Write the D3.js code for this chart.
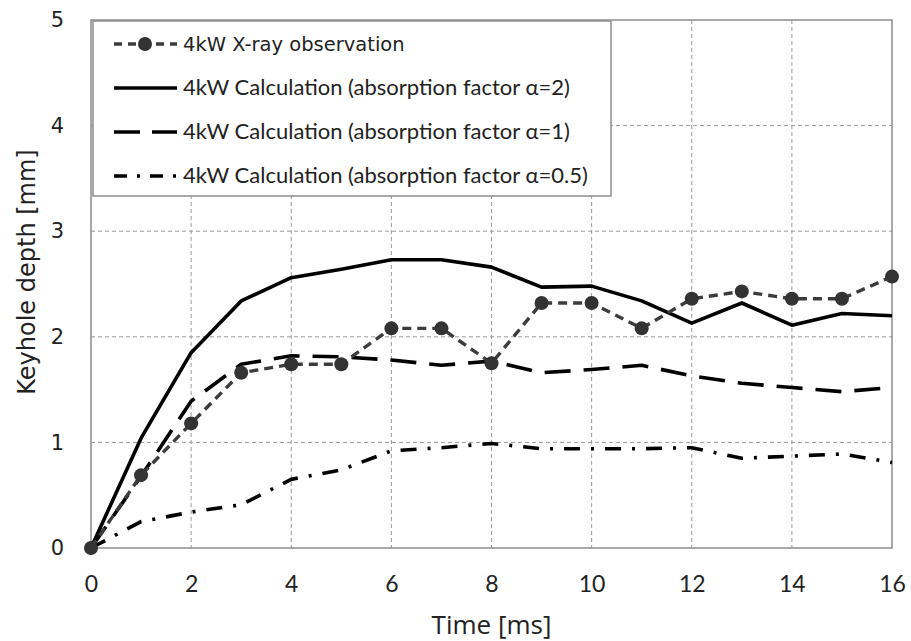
<!DOCTYPE html>
<html>
<head>
<meta charset="utf-8">
<script src="https://cdn.jsdelivr.net/npm/d3@7"></script>
<style>
  html, body { margin: 0; padding: 0; background: #fff; }
  svg { display: block; }
</style>
</head>
<body>
<svg id="chart" width="911" height="641"></svg>
<script>
// Time axis (ms)
const times = [0, 1, 2, 3, 4, 5, 6, 7, 8, 9, 10, 11, 12, 13, 14, 15, 16];
// Keyhole depth (mm)
const xrayObs  = [0, 0.69, 1.18, 1.66, 1.74, 1.74, 2.08, 2.08, 1.75, 2.32, 2.32, 2.08, 2.36, 2.43, 2.36, 2.36, 2.57];
const calcA2   = [0, 1.04, 1.85, 2.34, 2.56, 2.64, 2.73, 2.73, 2.66, 2.47, 2.48, 2.34, 2.13, 2.32, 2.11, 2.22, 2.20];
const calcA1   = [0, 0.68, 1.39, 1.74, 1.82, 1.81, 1.78, 1.73, 1.77, 1.66, 1.69, 1.73, 1.63, 1.56, 1.52, 1.48, 1.52];
const calcA05  = [0, 0.25, 0.34, 0.41, 0.65, 0.74, 0.92, 0.95, 0.99, 0.94, 0.94, 0.94, 0.95, 0.85, 0.87, 0.89, 0.81];
const xTicks = [0, 2, 4, 6, 8, 10, 12, 14, 16];
const yTicks = [0, 1, 2, 3, 4, 5];
const seriesNames = [
  "4kW X-ray observation",
  "4kW Calculation (absorption factor \u03b1=2)",
  "4kW Calculation (absorption factor \u03b1=1)",
  "4kW Calculation (absorption factor \u03b1=0.5)"
];

(function () {
const svg = d3.select("#chart");
const pL = 91, pR = 892, pT = 20, pB = 548;

const x = d3.scaleLinear().domain([0, 16]).range([pL, pR]);
const y = d3.scaleLinear().domain([0, 5]).range([pB, pT]);

// Grid lines
const grid = svg.append("g");
grid.selectAll("line.h").data(yTicks.filter(v => v > 0 && v < 5)).enter().append("line")
  .attr("x1", pL).attr("x2", pR)
  .attr("y1", d => y(d)).attr("y2", d => y(d))
  .attr("stroke", "#9a9a9a").attr("stroke-width", 1).attr("stroke-dasharray", "4,3");
grid.selectAll("line.v").data(xTicks.filter(v => v > 0 && v < 16)).enter().append("line")
  .attr("y1", pT).attr("y2", pB)
  .attr("x1", d => x(d)).attr("x2", d => x(d))
  .attr("stroke", "#9a9a9a").attr("stroke-width", 1).attr("stroke-dasharray", "4,3");

// Plot frame
svg.append("rect")
  .attr("x", pL).attr("y", pT)
  .attr("width", pR - pL).attr("height", pB - pT)
  .attr("fill", "none").attr("stroke", "#8c8c8c").attr("stroke-width", 1.5);

// Axes (labels only)
const xAxis = svg.append("g").attr("transform", `translate(0,${pB})`)
  .call(d3.axisBottom(x).tickValues(xTicks).tickSize(0).tickPadding(28).tickFormat(d3.format("d")));
xAxis.select(".domain").remove();
xAxis.selectAll("text")
  .attr("font-family", "Lato, 'Open Sans', sans-serif")
  .attr("font-size", 23).attr("fill", "#222");

const yAxis = svg.append("g").attr("transform", `translate(${pL},0)`)
  .call(d3.axisLeft(y).tickValues(yTicks).tickSize(0).tickPadding(27).tickFormat(d3.format("d")));
yAxis.select(".domain").remove();
yAxis.selectAll("text")
  .attr("font-family", "'DejaVu Sans', Verdana, sans-serif")
  .attr("font-size", 21).attr("fill", "#222");

// Axis titles
svg.append("text")
  .attr("x", (pL + pR) / 2).attr("y", 634)
  .attr("text-anchor", "middle")
  .attr("font-family", "'Open Sans', Lato, sans-serif")
  .attr("font-size", 26).attr("fill", "#222")
  .text("Time [ms]");
svg.append("text")
  .attr("transform", `translate(35,272) rotate(-90)`)
  .attr("text-anchor", "middle")
  .attr("font-family", "'DejaVu Sans', Verdana, sans-serif")
  .attr("font-size", 24).attr("fill", "#222")
  .text("Keyhole depth [mm]");

// Series
const styles = [
  { data: xrayObs, color: "#3c3c3c", width: 3.4, dash: "9,6", marker: true },
  { data: calcA2,  color: "#000",    width: 3.6, dash: null, marker: false },
  { data: calcA1,  color: "#000",    width: 3.6, dash: "26,13", marker: false },
  { data: calcA05, color: "#000",    width: 3.6, dash: "16,11,3,11", marker: false }
];
const line = d3.line().x((d, i) => x(times[i])).y(d => y(d));

const plot = svg.append("g");
// calculations first, observation on top
[3, 2, 1, 0].forEach(k => {
  const s = styles[k];
  plot.append("path")
    .datum(s.data)
    .attr("d", line)
    .attr("fill", "none")
    .attr("stroke", s.color)
    .attr("stroke-width", s.width)
    .attr("stroke-dasharray", s.dash)
    .attr("stroke-linejoin", "round");
  if (s.marker) {
    plot.selectAll("circle.obs").data(s.data).enter().append("circle")
      .attr("class", "obs")
      .attr("cx", (d, i) => x(times[i]))
      .attr("cy", d => y(d))
      .attr("r", 7)
      .attr("fill", "#333");
  }
});

// Legend
const lg = svg.append("g");
lg.append("rect")
  .attr("x", 93).attr("y", 21).attr("width", 518).attr("height", 175)
  .attr("fill", "#fff").attr("stroke", "#8c8c8c").attr("stroke-width", 1.5);
const rowY = [44, 88, 132, 176];
const legendDash = ["8,6", null, "26,12", "13,10,3,10"];
styles.forEach((s, k) => {
  lg.append("line")
    .attr("x1", 114).attr("x2", 177)
    .attr("y1", rowY[k]).attr("y2", rowY[k])
    .attr("stroke", s.color)
    .attr("stroke-width", s.width)
    .attr("stroke-dasharray", legendDash[k]);
  if (s.marker) {
    lg.append("circle").attr("cx", 145).attr("cy", rowY[k]).attr("r", 7).attr("fill", "#333");
  }
  lg.append("text")
    .attr("x", 183).attr("y", rowY[k] + 7)
    .attr("font-family", k === 0 ? "'DejaVu Sans', Verdana, sans-serif" : "Lato, 'Open Sans', sans-serif")
    .attr("font-size", k === 0 ? 19.5 : 22)
    .attr("fill", "#222")
    .text(seriesNames[k]);
});
})();
</script>
</body>
</html>
